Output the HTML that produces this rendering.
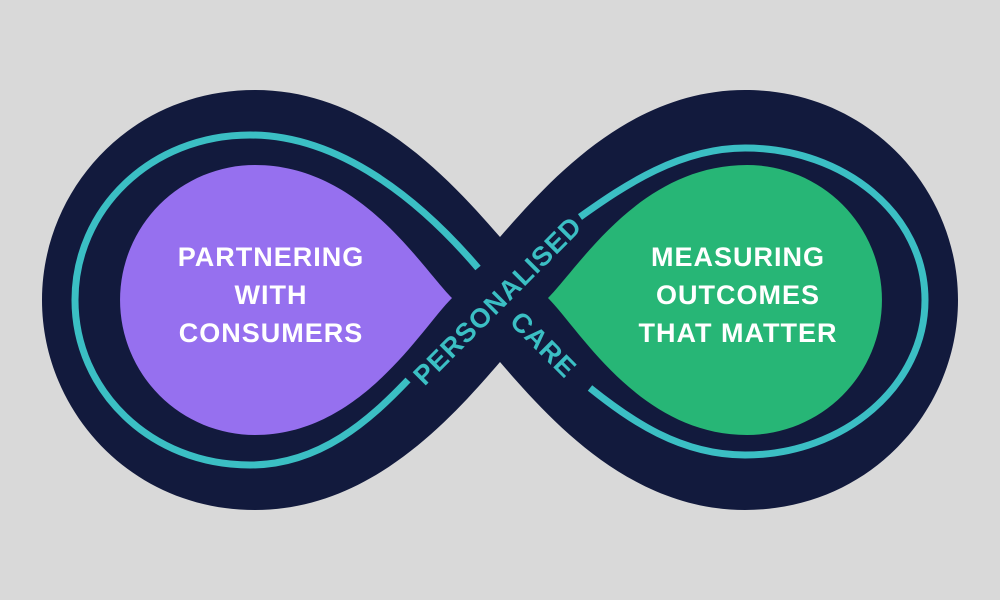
<!DOCTYPE html>
<html><head><style>body{margin:0;background:#d9d9d9}svg{display:block}</style></head>
<body>
<svg width="1000" height="600" viewBox="0 0 1000 600" xmlns="http://www.w3.org/2000/svg">
<rect width="1000" height="600" fill="#d9d9d9"/>
<path d="M500,237 C450,180 370,90 255,90 C130,90 42,190 42,300 C42,410 130,510 255,510 C370,510 450,420 500,362 C550,420 630,510 745,510 C870,510 958,410 958,300 C958,190 870,90 745,90 C630,90 550,180 500,237 Z" fill="#121a3d"/>
<g fill="none" stroke="#3bbfc4" stroke-width="7">
<path d="M478,268 C420,200 340,135 250,135 C150,135 75,210 75,300 C75,390 150,465 250,465 C320,465 370,420 408,380"/>
<path d="M580,217 C625,185 680,148 745,148 C845,148 925,215 925,300 C925,385 845,455 745,455 C680,455 630,420 590,388"/>
</g>
<path d="M452,298 C420,330 360,435 255,435 A135,135 0 0 1 255,165 C360,165 420,266 452,298 Z" fill="#9670ef"/>
<path d="M548,298 C580,330 640,435 747,435 A135,135 0 0 0 747,165 C640,165 580,266 548,298 Z" fill="#27b676"/>
<g font-family="Liberation Sans, sans-serif" font-weight="bold" font-size="27" fill="#fff" text-anchor="middle" letter-spacing="1">
<text x="271" y="266">PARTNERING</text><text x="271" y="304">WITH</text><text x="271" y="342">CONSUMERS</text>
<text x="738" y="266">MEASURING</text><text x="738" y="304">OUTCOMES</text><text x="738" y="342">THAT MATTER</text>
</g>
<g font-family="Liberation Sans, sans-serif" font-weight="bold" font-size="27" fill="#3bbfc4" text-anchor="middle" letter-spacing="1">
<text transform="translate(497,300) rotate(-45)" x="0" y="10">PERSONALISED</text>
<text transform="translate(544,344) rotate(45)" x="0" y="10">CARE</text>
</g>
</svg>
</body></html>
